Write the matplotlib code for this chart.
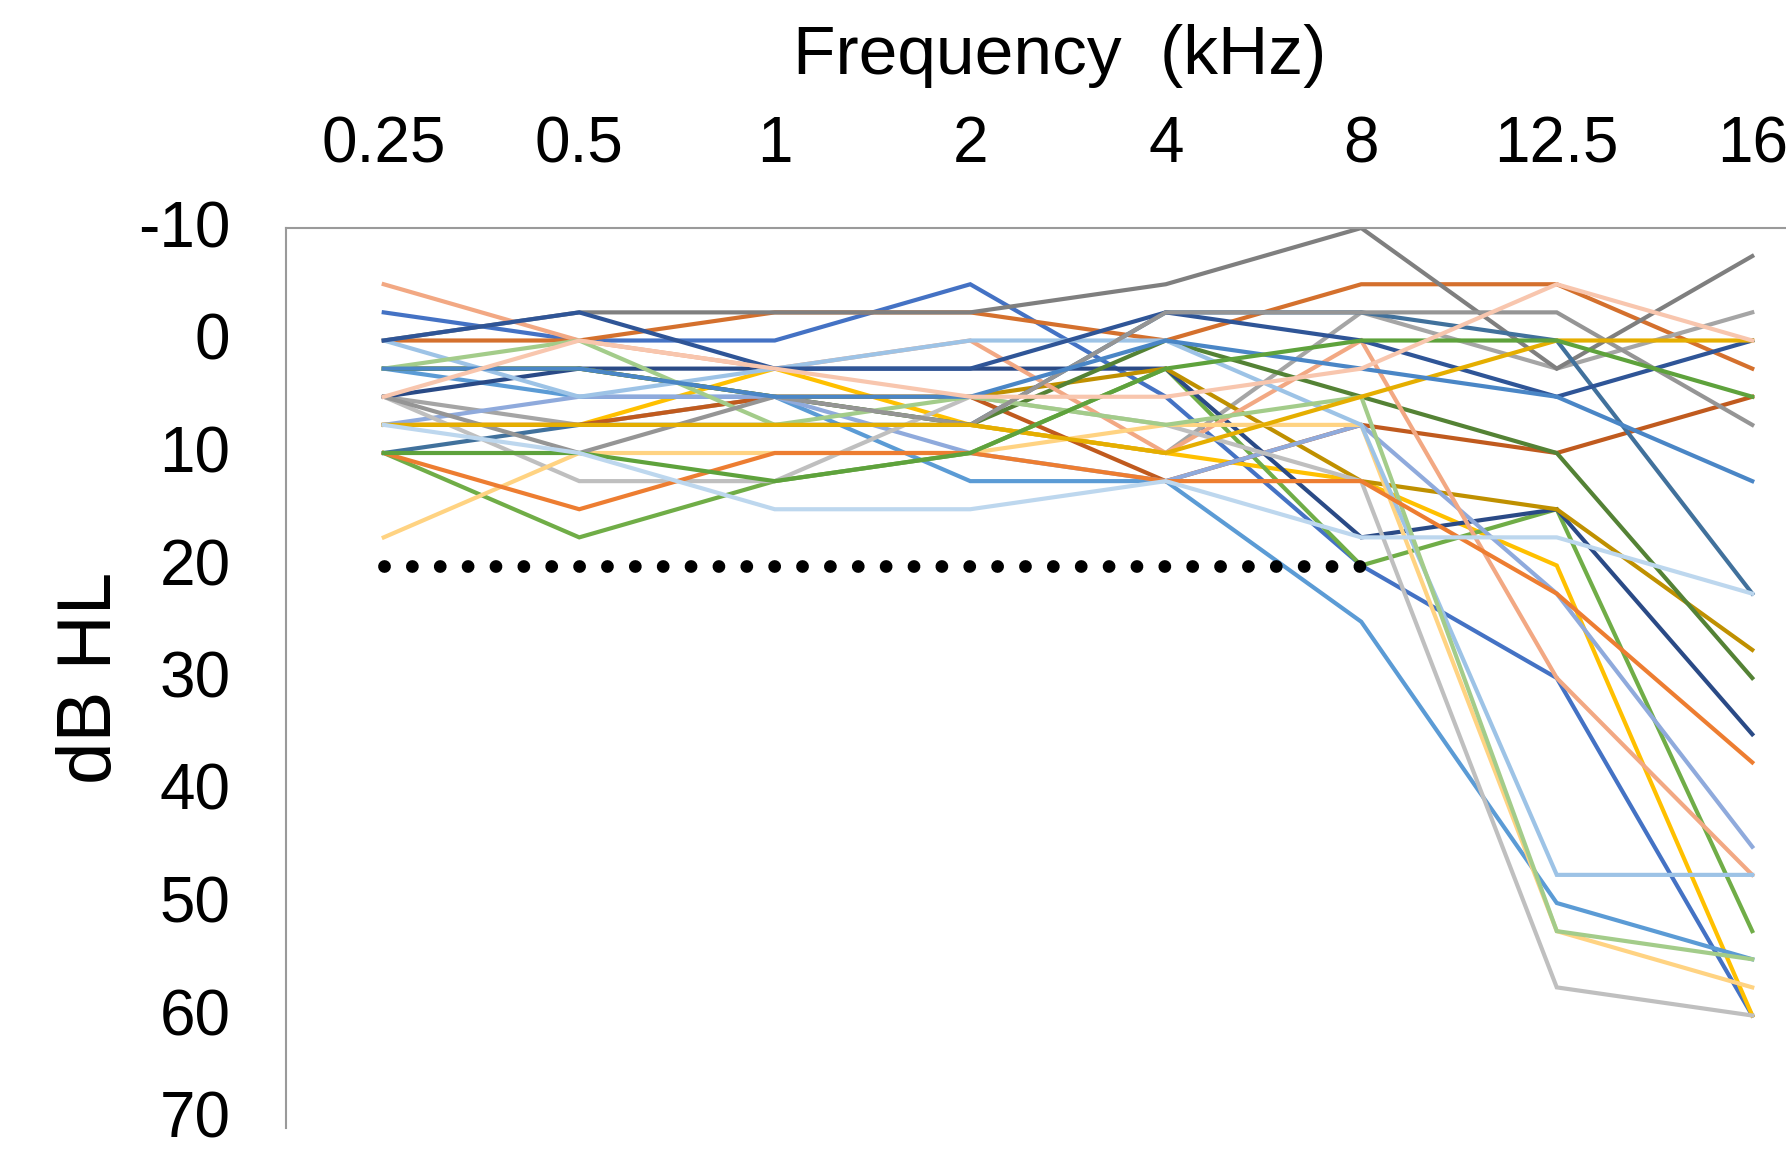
import matplotlib
matplotlib.use("Agg")
import matplotlib.pyplot as plt
import matplotlib.transforms as mtransforms
import numpy as np

# ---------------- data ----------------
FREQ_LABELS = ["0.25", "0.5", "1", "2", "4", "8", "12.5", "16"]
Y_TICKS = [-10, 0, 10, 20, 30, 40, 50, 60, 70]
THRESHOLD_DB = 20
THRESHOLD_LAST_FREQ = "8"

dark_gray   = [0, -2.5, -2.5, -2.5, -5, -10, 2.5, -7.5]
gray_a      = [5, 7.5, 5, 7.5, 10, -2.5, 2.5, -2.5]
gray_b      = [5, 10, 5, 7.5, -2.5, -2.5, -2.5, 7.5]
light_gray  = [5, 12.5, 12.5, 5, 7.5, 12.5, 57.5, 60]
orange_top  = [0, 0, -2.5, -2.5, 0, -5, -5, 2.5]
orange      = [10, 15, 10, 10, 12.5, 12.5, 22.5, 37.5]
brown       = [7.5, 7.5, 5, 5, 12.5, 7.5, 10, 5]
blue        = [-2.5, 0, 0, -5, 5, 20, 30, 60]
dark_blue   = [0, -2.5, 2.5, 2.5, -2.5, 0, 5, 0]
navy        = [5, 2.5, 2.5, 2.5, 2.5, 17.5, 15, 35]
light_blue  = [0, 5, 2.5, 0, 0, 7.5, 47.5, 47.5]
sky_blue    = [2.5, 5, 5, 12.5, 12.5, 25, 50, 55]
mid_blue    = [2.5, 2.5, 5, 5, 0, 2.5, 5, 12.5]
steel_blue  = [10, 7.5, 7.5, 7.5, -2.5, -2.5, 0, 22.5]
pale_blue   = [7.5, 10, 15, 15, 12.5, 17.5, 17.5, 22.5]
lavender    = [7.5, 5, 5, 10, 12.5, 7.5, 22.5, 45]
salmon      = [-5, 0, 2.5, 0, 10, 0, 30, 47.5]
pink        = [5, 0, 2.5, 5, 5, 2.5, -5, 0]
yellow      = [7.5, 7.5, 2.5, 7.5, 10, 12.5, 20, 60]
yellow_gold = [7.5, 7.5, 7.5, 7.5, 10, 5, 0, 0]
light_orange= [17.5, 10, 10, 10, 7.5, 7.5, 52.5, 57.5]
light_green = [2.5, 0, 7.5, 5, 7.5, 5, 52.5, 55]
green       = [10, 17.5, 12.5, 10, 2.5, 20, 15, 52.5]
green_b     = [10, 10, 12.5, 10, 2.5, 0, 0, 5]
dark_green  = [2.5, 2.5, 5, 7.5, 0, 5, 10, 30]
gold        = [2.5, 2.5, 5, 5, 2.5, 12.5, 15, 27.5]

# ---------------- styles ----------------
SERIES = [
    (blue, "#4472C4"), (orange_top, "#D4702D"), (gray_a, "#A5A5A5"),
    (yellow, "#FFC000"), (sky_blue, "#5B9BD5"), (green, "#70AD47"),
    (navy, "#2A4A86"), (brown, "#C05A1E"), (dark_gray, "#7F7F7F"),
    (gold, "#BF9000"), (steel_blue, "#41719C"), (dark_green, "#548235"),
    (lavender, "#8FAADC"), (salmon, "#F2A883"), (light_gray, "#BFBFBF"),
    (light_orange, "#FFD382"), (light_blue, "#9DC3E6"), (light_green, "#A3CC8A"),
    (dark_blue, "#2F5597"), (orange, "#ED7D31"), (gray_b, "#959595"),
    (yellow_gold, "#E5AE00"), (mid_blue, "#4A86C6"), (green_b, "#5EA23C"),
    (pale_blue, "#BDD7EE"), (pink, "#F8C6AE"),
]

W, H = 1786, 1153
fig = plt.figure(figsize=(W / 100, H / 100), dpi=100)
plt.rcParams["font.family"] = ["Liberation Sans", "DejaVu Sans"]

ax = fig.add_axes([286 / W, 1 - 1128 / H, (1850 - 286) / W, (1128 - 228) / H])
x = np.arange(len(FREQ_LABELS))

for vals, col in SERIES:
    ax.plot(x, vals, color=col, lw=3.0, solid_joinstyle="miter", zorder=2)

last = FREQ_LABELS.index(THRESHOLD_LAST_FREQ)
ax.plot(x[:last + 1], [THRESHOLD_DB] * (last + 1), color="black", lw=9.2,
        linestyle=(0, (0.001, 2.18)), dash_capstyle="round", zorder=3)

ax.set_xlim(-0.5, len(FREQ_LABELS) - 0.5)
ax.set_ylim(Y_TICKS[-1], Y_TICKS[0])
ax.xaxis.tick_top()
ax.set_xticks(x)
ax.set_xticklabels(FREQ_LABELS)
ax.set_yticks(Y_TICKS)
ax.set_yticklabels([str(t) for t in Y_TICKS])
ax.tick_params(axis="both", length=0, labelsize=46, colors="black")
ax.tick_params(axis="x", pad=38)
ax.tick_params(axis="y", pad=40)

# nudge y tick labels up slightly; the bottom one a bit more so it stays inside
ylabels = ax.get_yticklabels()
for i, lab in enumerate(ylabels):
    dy = 14 if i == len(ylabels) - 1 else 4
    shift = mtransforms.ScaledTranslation(0, dy / 100, fig.dpi_scale_trans)
    lab.set_transform(lab.get_transform() + shift)

for side in ["bottom", "right"]:
    ax.spines[side].set_visible(False)
for side in ["top", "left"]:
    ax.spines[side].set_color("#9A9A9A")
    ax.spines[side].set_linewidth(1.5)

fig.text(1060 / W, 1 - 56 / H, "Frequency  (kHz)", ha="center", va="center",
         fontsize=50)
fig.text(91 / W, 1 - 678 / H, "dB HL", ha="center", va="center",
         rotation=90, fontsize=55)

fig.savefig("out.png", dpi=100)
